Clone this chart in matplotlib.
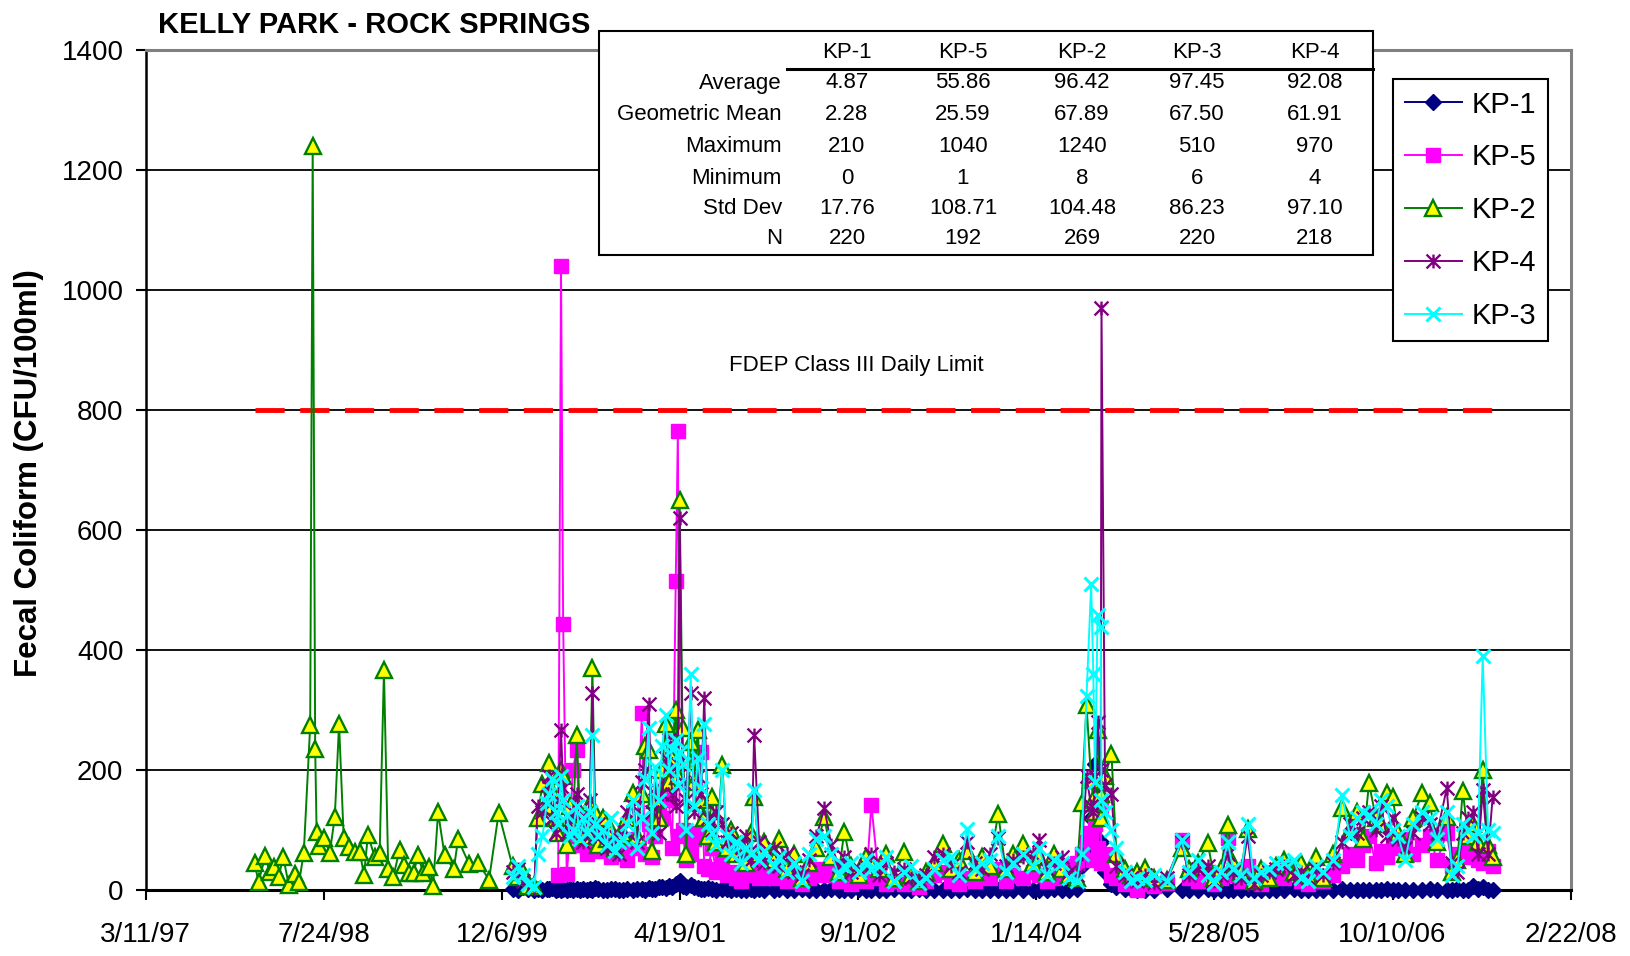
import numpy as np
import pandas as pd
import matplotlib
matplotlib.use("Agg")
import matplotlib.pyplot as plt
from matplotlib.path import Path
from matplotlib.patches import Rectangle
from matplotlib.lines import Line2D

plt.rcParams['font.family'] = ['Liberation Sans', 'DejaVu Sans']

# ---------------------------------------------------------------- text
title = "KELLY PARK - ROCK SPRINGS"
y_label = "Fecal Coliform (CFU/100ml)"
limit_label = "FDEP Class III Daily Limit"
limit_value = 800

x_tick_labels = ["3/11/97", "7/24/98", "12/6/99", "4/19/01", "9/1/02",
                 "1/14/04", "5/28/05", "10/10/06", "2/22/08"]
y_ticks = [0, 200, 400, 600, 800, 1000, 1200, 1400]

# ---------------------------------------------------------------- KP-2 record before the other stations started
kp2_early_dates = [
    "1998-01-11", "1998-01-22", "1998-02-10", "1998-02-22", "1998-03-06", "1998-03-20",
    "1998-04-01", "1998-04-17", "1998-05-04", "1998-05-16", "1998-05-29", "1998-06-16",
    "1998-06-23", "1998-06-30", "1998-07-04", "1998-07-11", "1998-07-24", "1998-08-10",
    "1998-08-24", "1998-09-05", "1998-09-18", "1998-10-03", "1998-10-19", "1998-11-02",
    "1998-11-14", "1998-11-25", "1998-12-14", "1998-12-28", "1999-01-09", "1999-01-21",
    "1999-02-04", "1999-02-22", "1999-03-06", "1999-03-21", "1999-04-02", "1999-04-15",
    "1999-04-29", "1999-05-16", "1999-05-27", "1999-06-10", "1999-06-28", "1999-07-24",
    "1999-08-05", "1999-09-05", "1999-10-01", "1999-10-31", "1999-11-27",
]
kp2_early = [
    45, 14, 57, 31, 39, 23, 56, 9, 27, 14,
    63, 275, 1240, 235, 98, 74, 88, 63, 122, 277,
    88, 73, 64, 64, 26, 92, 56, 63, 367, 35,
    22, 68, 42, 29, 29, 59, 29, 39, 8, 130,
    59, 35, 85, 44, 45, 18, 129,
]

# ---------------------------------------------------------------- common sampling dates, all stations (2000-2007)
sample_dates = [
    # 2000
    "2000-01-05", "2000-01-19", "2000-02-02", "2000-02-16", "2000-03-06", "2000-03-15", "2000-03-29",
    "2000-04-10", "2000-04-17", "2000-04-26", "2000-05-05", "2000-05-12", "2000-05-20", "2000-05-26",
    "2000-06-05", "2000-06-14", "2000-06-22", "2000-07-03", "2000-07-12", "2000-07-22", "2000-08-01",
    "2000-08-09", "2000-08-16", "2000-08-24", "2000-09-02", "2000-09-14", "2000-09-25", "2000-10-06",
    "2000-10-18", "2000-10-30", "2000-11-10", "2000-11-22", "2000-12-07", "2000-12-18",
    # 2001
    "2001-01-02", "2001-01-10", "2001-01-21", "2001-01-30", "2001-02-08", "2001-02-18", "2001-02-28",
    "2001-03-10", "2001-03-19", "2001-03-28", "2001-04-07", "2001-04-13", "2001-04-18", "2001-04-26",
    "2001-05-06", "2001-05-19", "2001-05-28", "2001-06-08", "2001-06-17", "2001-06-26", "2001-07-06",
    "2001-07-18", "2001-07-30", "2001-08-16", "2001-08-28", "2001-09-10", "2001-09-24", "2001-10-08",
    "2001-10-22", "2001-11-05", "2001-11-13", "2001-11-27", "2001-12-11",
    # 2002
    "2002-01-08", "2002-01-22", "2002-02-12", "2002-03-05", "2002-03-26", "2002-04-16", "2002-05-07",
    "2002-05-29", "2002-06-18", "2002-07-09", "2002-07-24", "2002-08-13", "2002-09-03", "2002-09-24",
    "2002-10-08", "2002-10-29", "2002-11-19", "2002-12-10",
    # 2003
    "2003-01-07", "2003-01-28", "2003-02-18", "2003-03-11", "2003-04-01", "2003-04-26", "2003-05-20",
    "2003-06-10", "2003-07-04", "2003-07-25", "2003-08-15", "2003-09-05", "2003-09-29", "2003-10-20",
    "2003-11-10", "2003-12-08",
    # 2004
    "2004-01-06", "2004-01-22", "2004-02-12", "2004-03-04", "2004-03-25", "2004-04-15", "2004-05-06",
    "2004-05-20", "2004-06-03", "2004-06-16", "2004-06-22", "2004-06-27", "2004-07-04", "2004-07-13",
    "2004-07-15", "2004-07-25", "2004-08-12", "2004-08-26", "2004-09-20", "2004-10-05", "2004-10-22",
    "2004-11-15", "2004-12-10",
    # 2005
    "2005-01-14", "2005-02-25", "2005-03-18", "2005-04-12", "2005-05-09", "2005-05-28", "2005-06-15",
    "2005-07-04", "2005-07-20", "2005-08-10", "2005-08-29", "2005-09-15", "2005-10-06", "2005-10-27",
    "2005-11-17", "2005-12-08",
    # 2006
    "2006-01-05", "2006-01-26", "2006-02-16", "2006-03-09", "2006-03-30", "2006-04-27", "2006-05-22",
    "2006-06-12", "2006-07-03", "2006-07-20", "2006-08-05", "2006-08-24", "2006-09-08", "2006-09-23",
    "2006-10-10", "2006-10-26", "2006-11-14", "2006-12-05",
    # 2007
    "2007-01-02", "2007-01-22", "2007-02-12", "2007-03-11", "2007-03-27", "2007-04-10", "2007-04-25",
    "2007-05-10", "2007-05-24", "2007-06-07", "2007-06-20", "2007-07-05", "2007-07-18",
]

nan = np.nan
kp1 = [
    2, 0, 5, 3, 0, 2, 1, 3, 2, 4, 1, 2, 0, 3, 1, 2, 1, 3, 0, 2, 1, 2, 1, 4, 2, 0, 1, 3, 2, 0, 1, 2, 1, 3,
    2, 1, 4, 2, 3, 5, 6, 4, 8, 5, 10, 12, 15, 8, 6, 9, 5, 4, 3, 2, 4, 2, 1, 3, 2, 1, 2, 0, 1, 2, 1, 3, 1,
    0, 2, 1, 0, 2, 1, 0, 1, 2, 0, 1, 0, 2, 1, 0, 1, 0, 2,
    1, 0, 2, 0, 1, 0, 1, 0, 2, 1, 0, 1, 0, 1, 0, 1,
    0, 1, 0, 2, 1, 0, 3, 40, 60, 120, 90, 210, 150, 80, 60, 30, 10, 5, 3, 2, 0, 1, 0,
    2, 0, 1, 0, 2, 0, 1, 0, 1, 0, 2, 0, 1, 0, 1, 0,
    2, 0, 1, 0, 1, 0, 2, 1, 0, 1, 0, 1, 0, 2, 0, 1, 0, 1,
    0, 2, 0, 1, 0, 3, 0, 1, 8, 2, 5, 1, 0,
]
kp5 = [
    nan, nan, nan, nan, nan, nan, nan, nan, nan, nan, nan, 25, 1040, 444, 28, 90, 200, 234, 75, 95,
    60, 110, 120, 80, 65, 90, 70, 55, 80, 60, 75, 50, 85, 70,
    295, 60, 110, 55, 90, 140, 120, 180, 150, 70, 515, 765, 90, 100, 50, 60, 85, 95, 231, 40,
    35, 70, 30, 45, 25, 30, 20, 15, 40, 25, 30, 20, 35,
    20, 30, 15, 25, 10, 20, 35, 25, 40, 15, 25, 10, 20, 15, 143, 20, 10, 15,
    10, 20, 5, 15, 25, 30, 15, 10, 20, 15, 25, 20, 35, 15, 25, 20,
    30, 25, 15, 20, 40, 30, 45, 60, 80, 95, 50, 110, 70, 140, 45, 60, 26, 20, 10, 15, 1, 10, 8,
    12, 84, 20, 15, 30, 10, 20, 87, 25, 15, 40, 20, 10, 25, 30, 20,
    35, 15, 10, 20, 15, 25, 40, 60, 50, 75, 90, 45, 65, 55, 80, 70, 85, 60,
    75, 90, 50, 95, 40, 60, 55, 65, 70, 50, 45, 65, 40,
]
kp2 = [
    40, 22, 30, 8, 8, 120, 178, 140, 213, 165, 120, 95, 200, 190, 75, 140, 110, 259, 130, 90,
    100, 145, 370, 130, 75, 120, 85, 100, 70, 90, 95, 120, 163, 90,
    160, 240, 234, 65, 150, 120, 200, 278, 180, 220, 300, 190, 650, 270, 60, 248, 180, 267, 150, 120,
    90, 156, 80, 209, 70, 100, 60, 75, 45, 95, 156, 60, 80,
    50, 85, 35, 60, 20, 45, 70, 123, 55, 30, 98, 40, 25, 55, 45, 35, 60, 20,
    64, 25, 15, 30, 45, 78, 35, 50, 65, 30, 55, 40, 128, 35, 60, 77,
    45, 55, 30, 60, 35, 25, 20, 145, 309, 184, 150, 130, 267, 160, 120, 190, 228, 60, 35, 25, 30, 38, 20,
    18, 70, 35, 45, 79, 20, 35, 109, 45, 30, 103, 15, 35, 20, 40, 50,
    30, 45, 25, 55, 20, 60, 138, 100, 130, 85, 179, 120, 110, 163, 155, 95, 60, 120,
    163, 145, 80, 122, 30, 50, 166, 90, 110, 80, 200, 75, 55,
]
kp4 = [
    30, 35, 15, 12, 4, 140, 130, 175, 190, 120, 95, 150, 267, 170, 95, 110, 130, 160, 100, 80,
    120, 150, 328, 90, 110, 95, 70, 80, 90, 60, 100, 130, 140, 80,
    180, 200, 311, 130, 170, 95, 160, 220, 250, 160, 140, 210, 620, 180, 150, 328, 130, 190, 160, 320,
    120, 100, 130, 110, 80, 95, 70, 60, 90, 50, 259, 80, 45,
    70, 40, 60, 30, 25, 50, 90, 137, 75, 40, 55, 30, 35, 40, 60, 25, 45, 30,
    35, 20, 18, 25, 55, 60, 40, 30, 80, 45, 35, 60, 87, 40, 50, 55,
    60, 84, 35, 45, 55, 30, 25, 60, 190, 140, 130, 190, 281, 200, 970, 175, 160, 40, 25, 20, 15, 25, 12,
    20, 80, 25, 35, 40, 15, 25, 60, 30, 20, 90, 10, 25, 30, 35, 40,
    25, 30, 20, 35, 25, 45, 80, 110, 95, 120, 130, 100, 140, 90, 120, 85, 70, 95,
    120, 110, 95, 170, 45, 30, 95, 120, 130, 60, 167, 60, 156,
]
kp3 = [
    23, 40, 25, 10, 6, 60, 90, 145, 160, 185, 130, 110, 190, 150, 125, 90, 100, 140, 85, 120,
    95, 130, 259, 110, 90, 100, 75, 120, 65, 80, 85, 110, 150, 70,
    120, 185, 270, 95, 205, 150, 240, 292, 200, 235, 250, 175, 230, 210, 100, 360, 140, 220, 170, 278,
    110, 95, 75, 200, 90, 60, 80, 45, 70, 60, 167, 50, 65,
    40, 55, 30, 45, 15, 60, 85, 90, 60, 25, 40, 45, 30, 50, 35, 40, 55, 15,
    30, 40, 12, 20, 35, 50, 55, 25, 102, 35, 45, 50, 90, 30, 45, 60,
    40, 70, 25, 50, 45, 20, 15, 60, 323, 510, 361, 180, 459, 439, 150, 130, 100, 70, 30, 15, 20, 18, 25,
    15, 84, 30, 50, 25, 12, 30, 80, 35, 25, 110, 20, 30, 35, 45, 45,
    50, 20, 15, 40, 30, 50, 159, 90, 120, 130, 125, 110, 150, 140, 100, 90, 50, 110,
    130, 120, 85, 130, 25, 40, 110, 100, 90, 95, 390, 100, 95,
]

# ---------------------------------------------------------------- summary statistics table
stat_columns = ["KP-1", "KP-5", "KP-2", "KP-3", "KP-4"]
stat_rows = ["Average", "Geometric Mean", "Maximum", "Minimum", "Std Dev", "N"]
stat_average = ["4.87", "55.86", "96.42", "97.45", "92.08"]
stat_geomean = ["2.28", "25.59", "67.89", "67.50", "61.91"]
stat_maximum = ["210", "1040", "1240", "510", "970"]
stat_minimum = ["0", "1", "8", "6", "4"]
stat_stddev = ["17.76", "108.71", "104.48", "86.23", "97.10"]
stat_count = ["220", "192", "269", "220", "218"]

# ---------------------------------------------------------------- figure
W, H = 1631, 956
fig = plt.figure(figsize=(W / 100, H / 100), dpi=100)


def fx(px):
    return px / W


def fy(py):
    return 1 - py / H


ax = fig.add_axes([fx(145.6), fy(890.4), fx(1570.7) - fx(145.6), fy(49.9) - fy(890.4)])

shared_x = pd.to_datetime(sample_dates).to_numpy()
kp2_x = pd.to_datetime(kp2_early_dates + sample_dates).to_numpy()
kp2_y = np.array(kp2_early + kp2, dtype=float)

star = Path([(-1, -1), (1, 1), (-1, 1), (1, -1), (0, -1), (0, 1)],
            [Path.MOVETO, Path.LINETO] * 3)

styles = {
    "KP-1": dict(color="#000080", marker="D", ms=7.8, mfc="#000080", mec="#000080", mew=1),
    "KP-5": dict(color="#FF00FF", marker="s", ms=9.5, mfc="#FF00FF", mec="#FF00FF", mew=1),
    "KP-2": dict(color="#008000", marker="^", ms=11, mfc="#FFFF00", mec="#008000", mew=1.7),
    "KP-4": dict(color="#800080", marker=star, ms=10, mfc="none", mec="#800080", mew=1.7),
    "KP-3": dict(color="#00FFFF", marker="x", ms=10, mec="#00FFFF", mew=2.2),
}
series = [
    ("KP-1", shared_x, np.array(kp1, dtype=float)),
    ("KP-5", shared_x, np.array(kp5, dtype=float)),
    ("KP-2", kp2_x, kp2_y),
    ("KP-4", shared_x, np.array(kp4, dtype=float)),
    ("KP-3", shared_x, np.array(kp3, dtype=float)),
]

# daily limit
ax.plot([kp2_x[0], shared_x[-1]], [limit_value, limit_value], color="#FF0000", lw=3.5,
        linestyle=(0, (6, 3.2)), zorder=1.8, dash_capstyle="butt")
ax.text(0.4985, 0.6251, limit_label, transform=ax.transAxes, ha="center", va="center",
        fontsize=16, zorder=2)

for i, (name, xs, ys) in enumerate(series):
    ax.plot(xs, ys, lw=1.4, label=name, clip_on=False, zorder=3 + i * 0.1, **styles[name])

# axes styling
tick_dates = pd.to_datetime(x_tick_labels, format="%m/%d/%y").to_numpy()
ax.set_xlim(tick_dates[0], tick_dates[-1])
ax.set_ylim(y_ticks[0], y_ticks[-1])
ax.set_xticks(tick_dates)
ax.set_xticklabels(x_tick_labels)
ax.set_yticks(y_ticks)
ax.set_yticklabels([str(v) for v in y_ticks])
ax.tick_params(axis="x", direction="out", length=7, width=1.5, labelsize=20, pad=16)
ax.tick_params(axis="y", direction="out", length=7, width=1.5, labelsize=20, pad=9)
ax.yaxis.grid(True, color="black", lw=1.3)
ax.set_axisbelow(True)
ax.spines["left"].set_linewidth(1.8)
ax.spines["bottom"].set_linewidth(2.2)
for side in ("top", "right"):
    ax.spines[side].set_color("#808080")
    ax.spines[side].set_linewidth(2.2)

fig.text(fx(29), fy(473), y_label, rotation=90, ha="center", va="center",
         fontsize=22.5, fontweight="bold")
fig.text(fx(158), fy(33), title, ha="left", va="baseline", fontsize=21, fontweight="bold")

leg = ax.legend(loc="upper left", bbox_to_anchor=(0.8753, 0.9654), frameon=True, fancybox=False,
                edgecolor="black", framealpha=1, fontsize=21, handlelength=1.95,
                handletextpad=0.35, labelspacing=0.85, borderpad=0.4, borderaxespad=0,
                numpoints=1)
leg.get_frame().set_linewidth(1.5)
leg.set_zorder(10)

# statistics table
fig.add_artist(Rectangle((fx(599), fy(255)), fx(1373) - fx(599), fy(31) - fy(255),
                         transform=fig.transFigure, facecolor="white", edgecolor="black",
                         lw=1.5, zorder=10))
fig.add_artist(Line2D([fx(787), fx(1373)], [fy(68.5), fy(68.5)], transform=fig.transFigure,
                      color="black", lw=2.2, zorder=11))
col_x = [847, 963, 1082, 1197, 1315]
row_y = [83, 114, 146, 178, 209, 239]
for cx, name in zip(col_x, stat_columns):
    fig.text(fx(cx), fy(52), name, ha="center", va="center", fontsize=16, zorder=12)
stat_values = [stat_average, stat_geomean, stat_maximum, stat_minimum, stat_stddev, stat_count]
for ry, label, values in zip(row_y, stat_rows, stat_values):
    fig.text(fx(782), fy(ry), label, ha="right", va="center", fontsize=16, zorder=12)
    for cx, v in zip(col_x, values):
        fig.text(fx(cx), fy(ry), v, ha="center", va="center", fontsize=16, zorder=12)

fig.savefig("out.png", dpi=100)
